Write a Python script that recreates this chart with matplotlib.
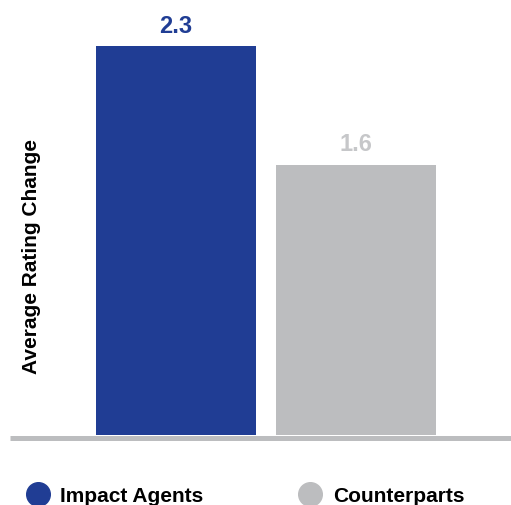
import matplotlib.pyplot as plt
from matplotlib.lines import Line2D

plt.rcParams['font.family'] = ['Liberation Sans', 'DejaVu Sans']
plt.rcParams['font.weight'] = 'bold'

groups = ['Impact Agents', 'Counterparts']
values = [2.3, 1.6]
labels = ['2.3', '1.6']
bar_colors = ['#203d94', '#bcbdbf']
label_colors = ['#203d94', '#c6c7c9']

fig = plt.figure(figsize=(5.11, 5.06), dpi=100)
ax = fig.add_axes([10 / 511, 70 / 506, 501 / 511, 436 / 506])

xs = range(len(values))
ax.bar(xs, values, width=0.889, color=bar_colors, zorder=2)
for x, v, lab, c in zip(xs, values, labels, label_colors):
    ax.annotate(lab, (x, v), xytext=(0, 7), textcoords='offset points',
                ha='center', va='bottom', fontsize=17, fontweight='bold', color=c)

ax.set_xlim(-0.922, 1.861)
ax.set_ylim(0, 2.58)

for side in ['top', 'right', 'left']:
    ax.spines[side].set_visible(False)
ax.spines['bottom'].set_color('#bcbdbf')
ax.spines['bottom'].set_linewidth(3.6)
ax.spines['bottom'].set_capstyle('butt')
ax.spines['bottom'].set_position(('outward', 1.8))
ax.set_xticks([])
ax.set_yticks([])

fig.text(32 / 511, 1 - 257 / 506, 'Average Rating Change', rotation=90,
         ha='center', va='center', fontsize=15, fontweight='bold')

handles = [Line2D([], [], marker='o', linestyle='', markersize=17,
                  markerfacecolor=c, markeredgecolor=c) for c in bar_colors]
fig.legend(handles, groups, loc='center left', bbox_to_anchor=(25 / 511, 1 - 497 / 506),
           ncol=2, frameon=False, fontsize=15, handletextpad=0.5,
           columnspacing=4.5, handlelength=1.2, borderpad=0, borderaxespad=0)

fig.savefig('out.png', dpi=100)
